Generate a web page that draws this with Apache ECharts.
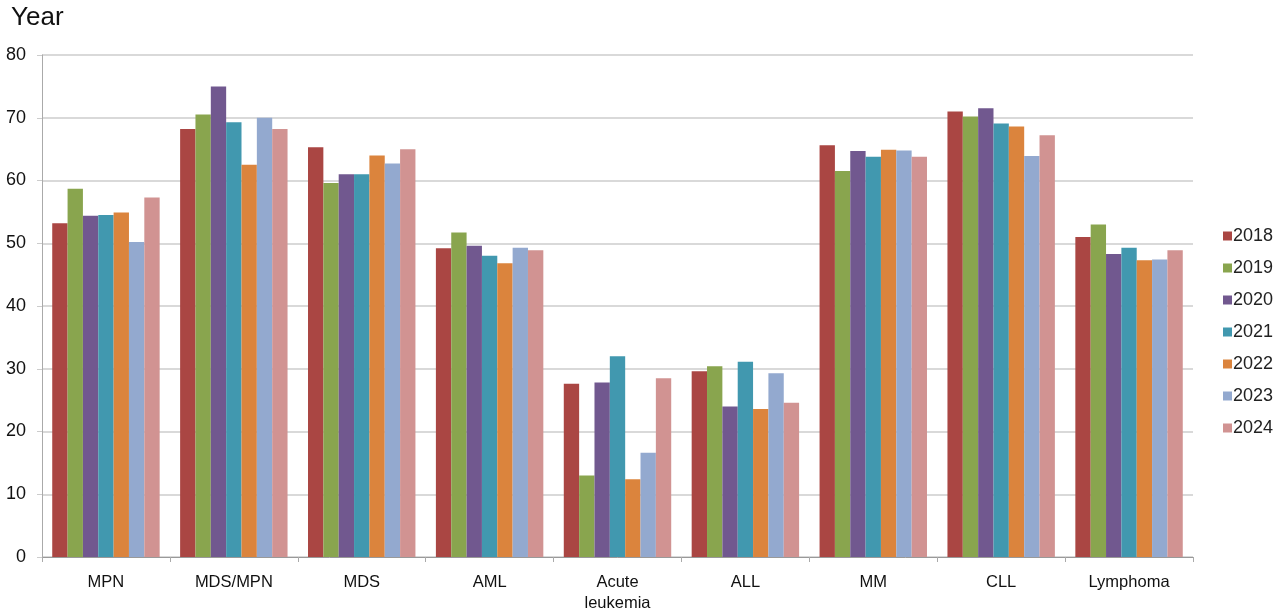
<!DOCTYPE html>
<html>
<head>
<meta charset="utf-8">
<script src="https://cdn.jsdelivr.net/npm/echarts@6/dist/echarts.min.js"></script>
<style>
  html, body { margin: 0; padding: 0; background: #fff; }
  #chart { width: 1280px; height: 614px; }
</style>
</head>
<body>
<div id="chart"></div>
<script>
const categories = ['MPN', 'MDS/MPN', 'MDS', 'AML', 'Acute\nleukemia', 'ALL', 'MM', 'CLL', 'Lymphoma']
const years = ['2018', '2019', '2020', '2021', '2022', '2023', '2024']

// one array per year, values in category order
const y2018 = [53.2, 68.2, 65.3, 49.2, 27.6, 29.6, 65.6, 71.0, 51.0]
const y2019 = [58.7, 70.5, 59.6, 51.7, 13.0, 30.4, 61.5, 70.2, 53.0]
const y2020 = [54.4, 75.0, 61.0, 49.6, 27.8, 24.0, 64.7, 71.5, 48.3]
const y2021 = [54.5, 69.3, 61.0, 48.0, 32.0, 31.1, 63.8, 69.1, 49.3]
const y2022 = [54.9, 62.5, 64.0, 46.8, 12.4, 23.6, 64.9, 68.6, 47.3]
const y2023 = [50.2, 70.0, 62.7, 49.3, 16.6, 29.3, 64.8, 63.9, 47.4]
const y2024 = [57.3, 68.2, 65.0, 48.9, 28.5, 24.6, 63.8, 67.2, 48.9]

const seriesData = [y2018, y2019, y2020, y2021, y2022, y2023, y2024]
const colors = ['#AA4643', '#89A54E', '#71588F', '#4198AF', '#DB843D', '#93A9CF', '#D19392']

const chart = echarts.init(document.getElementById('chart'))
chart.setOption({
  animation: false,
  color: colors,
  textStyle: { fontFamily: 'Liberation Sans, Arial, sans-serif' },
  title: {
    text: 'Year',
    left: 6,
    top: 0,
    textStyle: { fontSize: 26, fontWeight: 'normal', color: '#111' }
  },
  legend: {
    orient: 'vertical',
    left: 1218,
    top: 222,
    itemWidth: 9,
    itemHeight: 9,
    itemGap: 14,
    icon: 'rect',
    textStyle: { fontSize: 18, color: '#222', padding: [0, 0, 0, -4] },
    data: years
  },
  grid: { left: 42, right: 87, top: 55, bottom: 56 },
  xAxis: {
    type: 'category',
    data: categories,
    axisLine: { lineStyle: { color: '#999' } },
    axisTick: { show: true, length: 5, lineStyle: { color: '#aaa' } },
    axisLabel: { fontSize: 16.5, color: '#111', margin: 15, lineHeight: 21 }
  },
  yAxis: {
    type: 'value',
    min: 0,
    max: 80,
    interval: 10,
    axisLine: { show: true, lineStyle: { color: '#aaa' } },
    axisTick: { show: true, length: 5, lineStyle: { color: '#ccc' } },
    splitLine: { lineStyle: { color: '#ccc', width: 1.5 } },
    axisLabel: { fontSize: 18, color: '#111', margin: 16 }
  },
  series: years.map((y, i) => ({
    name: y,
    type: 'bar',
    data: seriesData[i],
    barGap: '0%',
    barCategoryGap: '16%'
  }))
})
</script>
</body>
</html>
